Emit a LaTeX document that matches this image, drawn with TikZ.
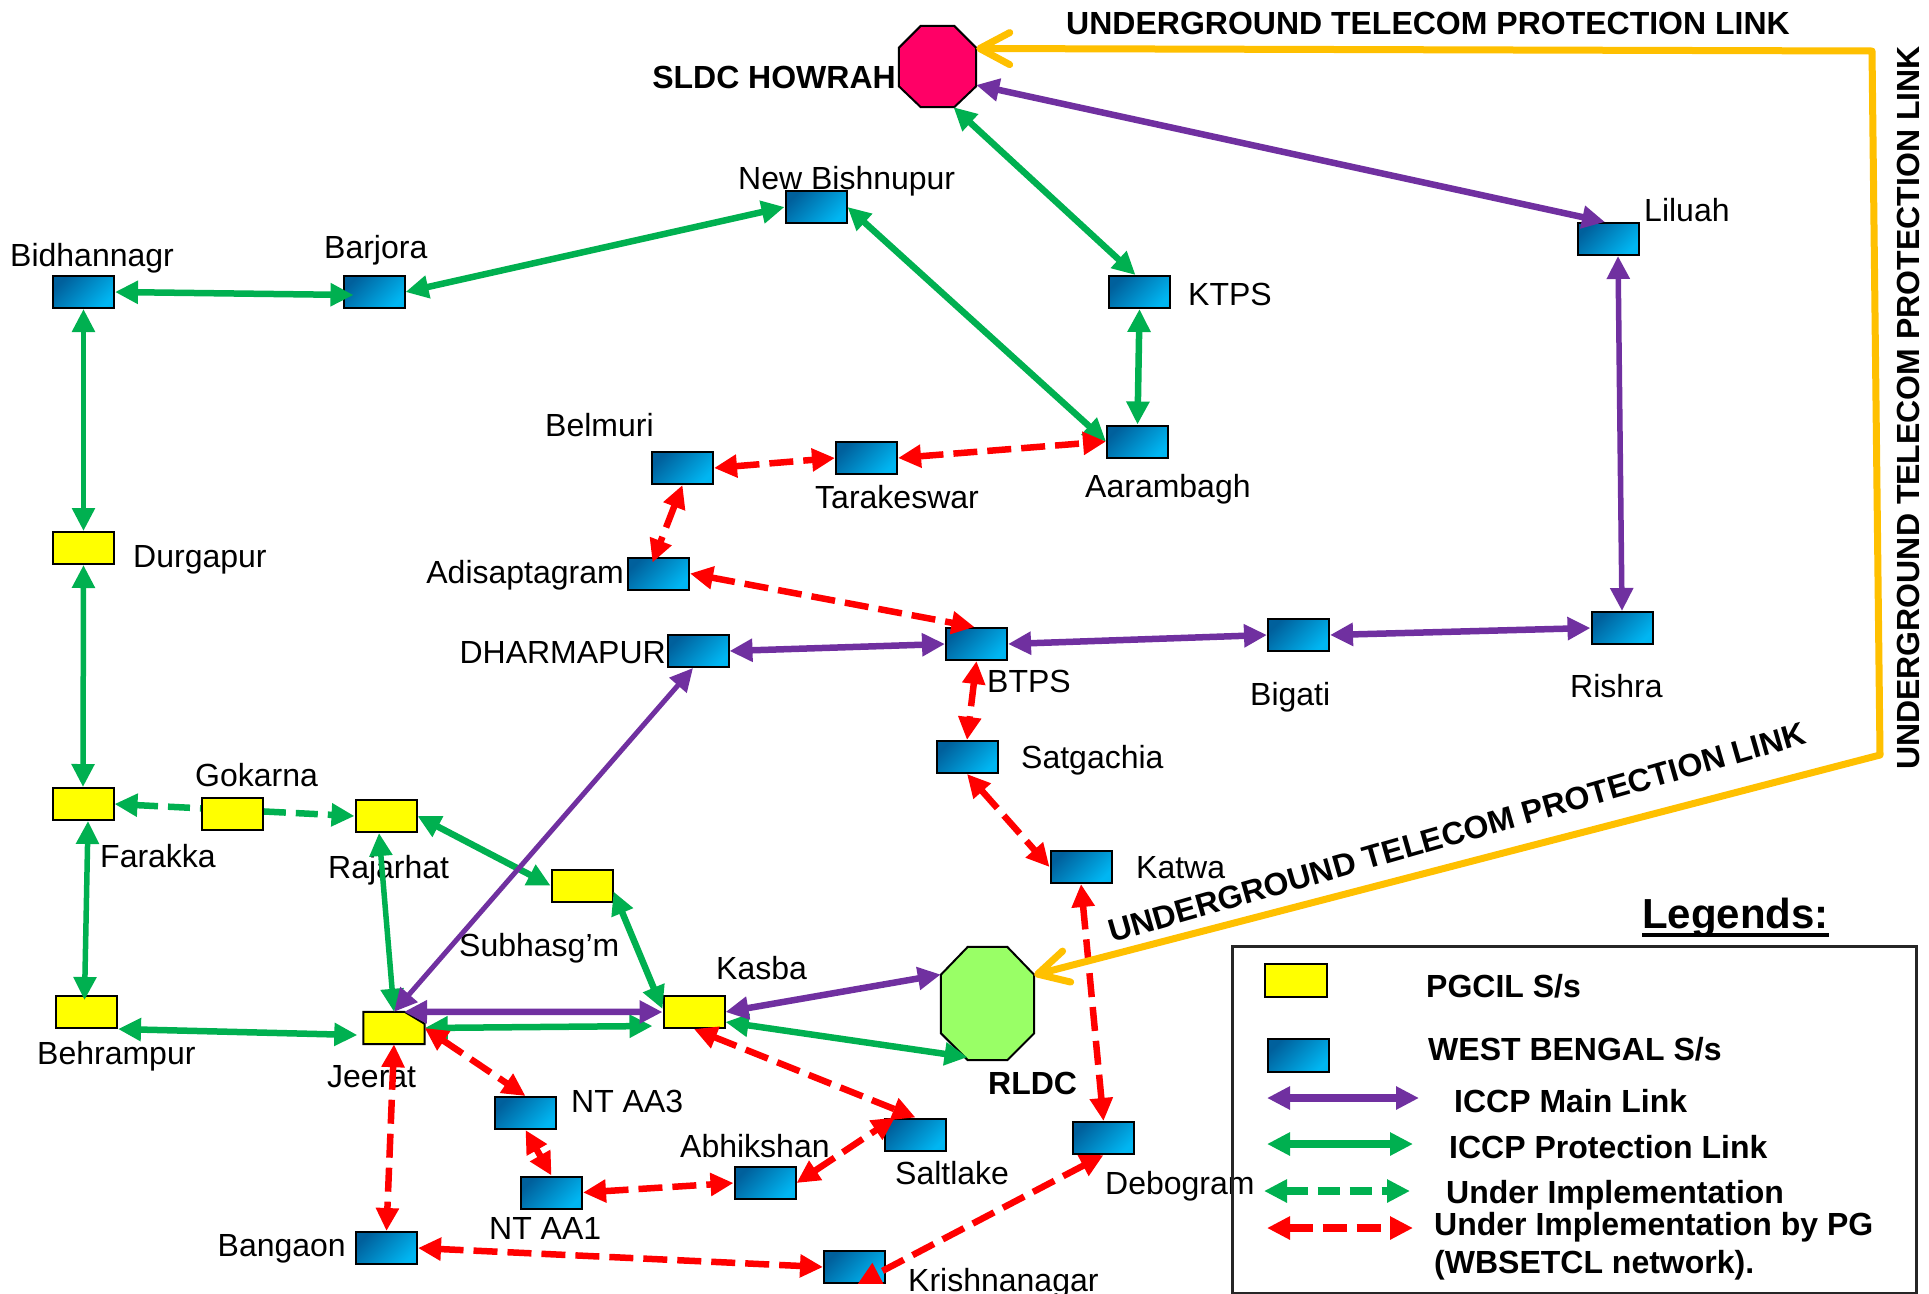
\documentclass[tikz,border=0pt]{standalone}
\usepackage{fontspec}
\setmainfont{Liberation Sans}
\usetikzlibrary{arrows.meta}
\definecolor{ppl}{RGB}{112,48,160}
\definecolor{grn}{RGB}{0,176,80}
\definecolor{rd}{RGB}{255,0,0}
\definecolor{ugy}{RGB}{255,192,0}
\definecolor{pgy}{RGB}{255,255,0}
\definecolor{wbdark}{RGB}{0,96,156}
\definecolor{wblight}{RGB}{0,182,242}
\definecolor{sldcc}{RGB}{255,0,102}
\definecolor{rldcc}{RGB}{153,255,102}
\begin{document}
\begin{tikzpicture}[x=1pt,y=-1pt,
  lab/.style={font=\fontsize{32}{38}\selectfont, inner sep=0pt, anchor=base west},
  blab/.style={font=\fontsize{32}{38}\selectfont\bfseries, inner sep=0pt, anchor=base west},
  wbox/.style={draw=black, line width=2pt, minimum width=61pt, minimum height=32pt, inner sep=0pt, shading=axis, top color=wbdark, bottom color=wblight, shading angle=45},
  pbox/.style={draw=black, line width=2pt, minimum width=61pt, minimum height=32pt, inner sep=0pt, fill=pgy},
  link/.style={line width=6.5pt, >={Triangle[length=23pt,width=22pt]}, <->},
  mainl/.style={link, color=ppl},
  protl/.style={link, color=grn},
  impl/.style={link, color=grn, dash pattern=on 22pt off 10pt},
  pgl/.style={link, color=rd, dash pattern=on 24pt off 10pt},
  ugl/.style={line width=7pt, color=ugy, line join=round, >={Straight Barb[length=30pt,width=32pt,round]}, <->}
]
\useasboundingbox (0,0) rectangle (1929,1293);
\fill[white] (0,0) rectangle (1929,1293);

% ---------- labels ----------
\node[blab, anchor=base east] (tsldc) at (896,88) {SLDC HOWRAH};
\node[blab, anchor=base] (ugt) at (1428,34) {UNDERGROUND TELECOM PROTECTION LINK};
\node[blab, anchor=base, rotate=90] (ugv) at (1919,408) {UNDERGROUND TELECOM PROTECTION LINK};
\node[blab, rotate=16] (ugd) at (1112,943) {UNDERGROUND TELECOM PROTECTION LINK};
\node[lab] (tbidh) at (10,266) {Bidhannagr};
\node[lab] (tbarj) at (324,258) {Barjora};
\node[lab] (tnbis) at (738,189) {New Bishnupur};
\node[lab] (tktps) at (1188,305) {KTPS};
\node[lab] (tlilu) at (1644,221) {Liluah};
\node[lab] (tbelm) at (545,436) {Belmuri};
\node[lab] (ttara) at (815,508) {Tarakeswar};
\node[lab] (taara) at (1085,497) {Aarambagh};
\node[lab, anchor=base east] (tadis) at (624,583) {Adisaptagram};
\node[lab] (tdurg) at (133,567) {Durgapur};
\node[lab, anchor=base east] (tdhar) at (666,663) {DHARMAPUR};
\node[lab] (tbtps) at (987,692) {BTPS};
\node[lab] (tbiga) at (1250,705) {Bigati};
\node[lab] (trish) at (1570,697) {Rishra};
\node[lab] (tsatg) at (1021,768) {Satgachia};
\node[lab] (tkatw) at (1136,878) {Katwa};
\node[lab] (tgoka) at (195,786) {Gokarna};
\node[lab] (tfara) at (100,867) {Farakka};
\node[lab] (traja) at (328,878) {Rajarhat};
\node[lab] (tsubh) at (459,956) {Subhasg’m};
\node[lab] (tbehr) at (37,1064) {Behrampur};
\node[lab] (tjeer) at (327,1087) {Jeerat};
\node[lab] (tkasb) at (716,979) {Kasba};
\node[blab] (trldc) at (988,1094) {RLDC};
\node[lab] (tnt3) at (571,1112) {NT AA3};
\node[lab] (tnt1) at (489,1239) {NT AA1};
\node[lab] (tabhi) at (680,1157) {Abhikshan};
\node[lab] (tsalt) at (895,1184) {Saltlake};
\node[lab] (tdebo) at (1105,1194) {Debogram};
\node[lab, anchor=base east] (tbang) at (346,1256) {Bangaon};
\node[lab] (tkris) at (908,1291) {Krishnanagar};

% ---------- octagons ----------
\node[minimum width=77pt, minimum height=81pt, inner sep=0pt] (sldc) at (937.5,66.5) {};
\filldraw[fill=sldcc, draw=black, line width=2pt]
  ([xshift=22pt]sldc.north west) -- ([xshift=-22pt]sldc.north east) -- ([yshift=-22pt]sldc.north east)
  -- ([yshift=21pt]sldc.south east) -- ([xshift=-22pt]sldc.south east) -- ([xshift=22pt]sldc.south west)
  -- ([yshift=21pt]sldc.south west) -- ([yshift=-22pt]sldc.north west) -- cycle;
\node[minimum width=93pt, minimum height=113pt, inner sep=0pt] (rldc) at (987.5,1003.5) {};
\filldraw[fill=rldcc, draw=black, line width=2pt]
  ([xshift=27pt]rldc.north west) -- ([xshift=-27pt]rldc.north east) -- ([yshift=-28pt]rldc.north east)
  -- ([yshift=27pt]rldc.south east) -- ([xshift=-27pt]rldc.south east) -- ([xshift=27pt]rldc.south west)
  -- ([yshift=27pt]rldc.south west) -- ([yshift=-28pt]rldc.north west) -- cycle;

% ---------- West Bengal substations ----------
\node[wbox] (bidh) at (83.5,292) {};
\node[wbox] (barj) at (374,292) {};
\node[wbox] (nbis) at (816,207) {};
\node[wbox] (ktps) at (1139.5,292) {};
\node[wbox] (lilu) at (1608,239) {};
\node[wbox] (belm) at (682.5,468) {};
\node[wbox] (tara) at (866.5,458) {};
\node[wbox] (aara) at (1137.5,441.5) {};
\node[wbox] (adis) at (658.5,573.5) {};
\node[wbox] (dhar) at (698,651) {};
\node[wbox] (btps) at (976.5,644) {};
\node[wbox] (biga) at (1298.5,635) {};
\node[wbox] (rish) at (1622,628) {};
\node[wbox] (satg) at (967,757) {};
\node[wbox] (katw) at (1081,867) {};
\node[wbox] (ntaa3) at (525.5,1113) {};
\node[wbox] (ntaa1) at (551.5,1192.5) {};
\node[wbox] (abhi) at (765,1183) {};
\node[wbox] (salt) at (915.5,1134.5) {};
\node[wbox] (debo) at (1103.5,1138) {};
\node[wbox] (bang) at (386.5,1248) {};
\node[wbox] (kris) at (854.5,1267) {};

% ---------- PGCIL substations ----------
\node[pbox] (durg) at (83.5,548) {};
\node[pbox] (fara) at (83,804) {};
\node[pbox] (raja) at (386,816) {};
\node[pbox] (subh) at (582,885.5) {};
\node[pbox] (behr) at (86.5,1012) {};
\node[pbox] (kasb) at (694,1012) {};
\node[minimum width=61pt, minimum height=32pt, inner sep=0pt] (jeer) at (394,1028) {};
\filldraw[fill=pgy, draw=black, line width=2pt]
  (jeer.north west) -- ([xshift=-20pt]jeer.north east) -- ([yshift=-12pt]jeer.north east)
  -- (jeer.south east) -- (jeer.south west) -- cycle;

% ---------- ICCP protection links ----------
\draw[protl] ([xshift=16pt]sldc.south) -- ([xshift=-4pt]ktps.north);
\draw[protl] (ktps.south) -- (aara.north);
\draw[protl] (nbis.east) -- (aara.west);
\draw[protl] (barj.east) -- (nbis.west);
\draw[protl] (bidh.east) -- ([xshift=11pt,yshift=-3pt]barj.west);
\draw[protl, line width=5.5pt] (bidh.south) -- (durg.north);
\draw[protl, line width=5.5pt] (durg.south) -- (fara.north);
\draw[protl, line width=5.5pt] ([xshift=5pt]fara.south) -- ([xshift=-2pt,yshift=-5pt]behr.north);
\draw[protl] ([yshift=-17pt]behr.east) -- ([xshift=-6pt,yshift=-7pt]jeer.west);
\draw[protl, line width=5.5pt] ([xshift=-7pt]raja.south) -- (jeer.north);
\draw[protl] (raja.east) -- (subh.west);
\draw[protl] ([yshift=-6pt]subh.east) -- ([yshift=3pt]kasb.west);
\draw[protl] (jeer.east) -- ([xshift=-10pt,yshift=-14pt]kasb.west);
\draw[protl] ([yshift=-10pt]kasb.east) -- ([xshift=-20pt,yshift=3pt]rldc.south);

% ---------- under implementation ----------
\draw[impl] (fara.east) -- (raja.west);
\node[pbox] (goka) at (232,814) {};

% ---------- ICCP main links ----------
\draw[mainl] ([yshift=-18.5pt]sldc.east) -- ([xshift=-3pt]lilu.north);
\draw[mainl, line width=5.5pt] ([xshift=10pt]lilu.south) -- (rish.north);
\draw[mainl] (biga.east) -- (rish.west);
\draw[mainl] (btps.east) -- (biga.west);
\draw[mainl] (dhar.east) -- (btps.west);
\draw[mainl, line width=5pt] (jeer.north) -- ([xshift=-5pt]dhar.south);
\draw[mainl] ([xshift=10pt]jeer.north) -- (kasb.west);
\draw[mainl] (kasb.east) -- ([yshift=29pt]rldc.west);

% ---------- under implementation by PG ----------
\draw[pgl] (belm.east) -- (tara.west);
\draw[pgl] (tara.east) -- (aara.west);
\draw[pgl] (belm.south) -- ([xshift=-6pt,yshift=-6pt]adis.north);
\draw[pgl] (adis.east) -- ([xshift=-2pt]btps.north);
\draw[pgl] (btps.south) -- (satg.north);
\draw[pgl] (satg.south) -- (katw.west);
\draw[pgl] (katw.south) -- (debo.north);
\draw[pgl] (debo.south) -- ([xshift=3pt]kris.south);
\draw[pgl] (bang.east) -- (kris.west);
\draw[pgl] (jeer.south) -- (bang.north);
\draw[pgl] (jeer.east) -- (ntaa3.north);
\draw[pgl] (ntaa3.south) -- (ntaa1.north);
\draw[pgl] (ntaa1.east) -- (abhi.west);
\draw[pgl] (abhi.east) -- ([xshift=11pt]salt.north west);
\draw[pgl] (kasb.south) -- (salt.north);

% ---------- underground telecom link ----------
\coordinate (ugc1) at (1872,51);
\coordinate (ugc2) at (1880,755);
\draw[ugl] ([yshift=18pt]sldc.east) -- (ugc1) -- (ugc2) -- ([yshift=28.5pt]rldc.east);

% ---------- legend ----------
\node[blab, font=\fontsize{42}{50}\selectfont\bfseries] (legt) at (1642,928) {Legends:};
\draw[line width=4pt] ([yshift=-7pt]legt.base west) -- ([yshift=-7pt]legt.base east);
\node[draw=black!85, line width=2.5pt, minimum width=684pt, minimum height=347pt, inner sep=0pt, anchor=north west] (legbox) at (1231,945) {};
\node[pbox, minimum width=62pt, minimum height=33pt] (lgy) at (1295.5,980) {};
\node[wbox, minimum width=61pt, minimum height=33pt] (lgb) at (1298.5,1055.5) {};
\coordinate (lma) at (1267,1098); \coordinate (lmb) at (1419,1098);
\coordinate (lpa) at (1267,1144); \coordinate (lpb) at (1413,1144);
\coordinate (lia) at (1264,1191); \coordinate (lib) at (1410,1191);
\coordinate (lra) at (1267,1228); \coordinate (lrb) at (1413,1228);
\draw[mainl, line width=8pt] (lma) -- (lmb);
\draw[protl, line width=8pt] (lpa) -- (lpb);
\draw[impl, line width=8pt] (lia) -- (lib);
\draw[pgl, line width=8pt] (lra) -- (lrb);
\node[blab] (lt1) at (1426,997) {PGCIL S/s};
\node[blab] (lt2) at (1428,1060) {WEST BENGAL S/s};
\node[blab] (lt3) at (1454,1112) {ICCP Main Link};
\node[blab] (lt4) at (1449,1158) {ICCP Protection Link};
\node[blab] (lt5) at (1446,1203) {Under Implementation};
\node[blab] (lt6) at (1434,1235) {Under Implementation by PG};
\node[blab] (lt7) at (1434,1273) {(WBSETCL network).};
\end{tikzpicture}
\end{document}
